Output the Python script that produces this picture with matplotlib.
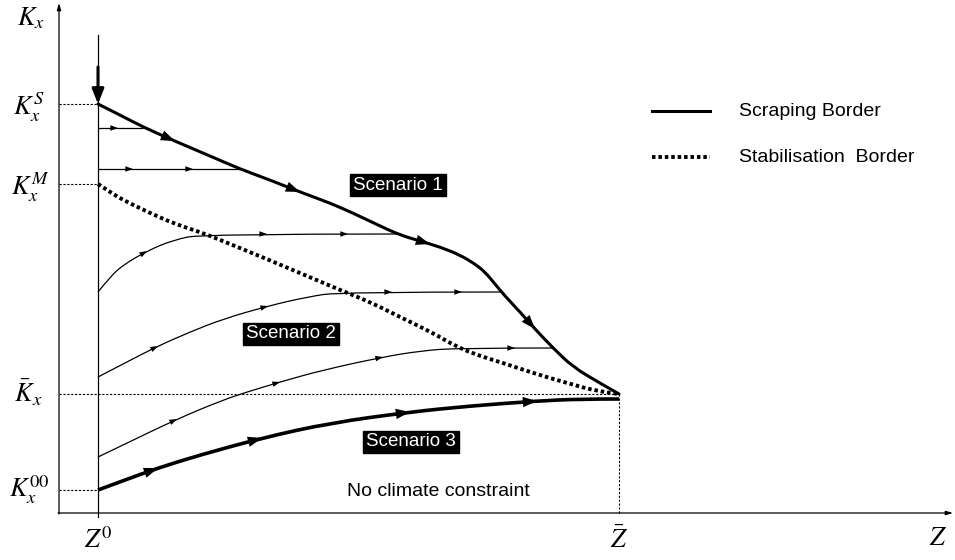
import numpy as np
import matplotlib
matplotlib.use("Agg")
import matplotlib.pyplot as plt
from matplotlib.path import Path
from matplotlib.patches import PathPatch

plt.rcParams['font.family'] = ['Liberation Sans', 'DejaVu Sans']
plt.rcParams['mathtext.fontset'] = 'stix'

# reference levels on the axes
Z0 = 0.39
Z_bar = 5.60
K_S = 4.09
K_M = 3.29
K_bar = 1.19
K_00 = 0.23

# scraping border (upper bound)
scrap_z = [0.39, 0.61, 0.84, 1.18, 1.51, 1.81, 2.11, 2.41, 2.71, 2.96, 3.21, 3.41, 3.61,
           3.81, 4.01, 4.16, 4.26, 4.36, 4.46, 4.61, 4.76, 4.94, 5.14, 5.39, 5.60]
scrap_k = [4.09, 3.98, 3.86, 3.71, 3.57, 3.44, 3.33, 3.21, 3.10, 2.99, 2.87, 2.78, 2.72,
           2.66, 2.58, 2.49, 2.41, 2.29, 2.17, 2.01, 1.84, 1.65, 1.46, 1.31, 1.19]

# stabilisation border
stab_z = [0.39, 0.51, 0.64, 0.91, 1.16, 1.44, 1.71, 1.98, 2.41, 2.81, 3.11, 3.41, 3.74,
          3.98, 4.21, 4.41, 4.74, 5.08, 5.41, 5.60]
stab_k = [3.29, 3.21, 3.13, 3.00, 2.89, 2.80, 2.69, 2.58, 2.40, 2.23, 2.11, 1.96, 1.80,
          1.66, 1.57, 1.51, 1.40, 1.30, 1.21, 1.19]

# thin trajectories
traj1_z = [0.39, 0.84]
traj1_k = [3.85, 3.85]
traj2_z = [0.39, 1.81]
traj2_k = [3.44, 3.44]
traj3_z = [0.39, 0.51, 0.64, 0.88, 1.14, 1.44, 3.40]
traj3_k = [2.21, 2.36, 2.48, 2.62, 2.73, 2.79, 2.79]
traj4_z = [0.39, 0.64, 0.99, 1.31, 1.64, 2.09, 2.48, 2.81, 4.43]
traj4_k = [1.36, 1.49, 1.67, 1.81, 1.94, 2.07, 2.16, 2.21, 2.21]
traj5_z = [0.39, 0.64, 1.18, 1.64, 1.88, 2.21, 2.64, 3.24, 3.61, 3.98, 4.94]
traj5_k = [0.56, 0.68, 0.94, 1.13, 1.21, 1.31, 1.43, 1.56, 1.62, 1.65, 1.65]

# scenario 3 path (no climate constraint)
sc3_z = [0.39, 0.66, 0.99, 1.41, 2.03, 2.71, 3.51, 4.11, 4.78, 5.21, 5.60]
sc3_k = [0.23, 0.33, 0.45, 0.58, 0.75, 0.90, 1.01, 1.07, 1.12, 1.14, 1.14]

fig = plt.figure(figsize=(9.55, 5.6), dpi=100)
ax = fig.add_axes([0, 0, 1, 1])
ax.set_xlim(-0.59, 8.96)
ax.set_ylim(-0.47, 5.13)
ax.axis('off')


def smooth(zs, ks, **kw):
    # quadratic bezier through the midpoints, the read points act as controls
    pts = list(zip(zs, ks))
    if len(pts) < 3:
        verts, codes = pts, [Path.MOVETO, Path.LINETO]
    else:
        verts, codes = [pts[0]], [Path.MOVETO]
        for i in range(1, len(pts) - 2):
            mid = ((pts[i][0] + pts[i + 1][0]) / 2, (pts[i][1] + pts[i + 1][1]) / 2)
            verts += [pts[i], mid]
            codes += [Path.CURVE3, Path.CURVE3]
        verts += [pts[-2], pts[-1]]
        codes += [Path.CURVE3, Path.CURVE3]
    ax.add_patch(PathPatch(Path(verts, codes), fill=False, **kw))


def head(z, k, zs, ks, dz, big=False):
    # arrowhead sitting on a curve, pointing along it
    k0 = np.interp(z - dz, zs, ks)
    if big:
        style, ms = '-|>,head_length=0.6,head_width=0.22', 17
    else:
        style, ms = '-|>,head_length=0.55,head_width=0.2', 10
    ax.annotate('', xy=(z, k), xytext=(z - dz, k0),
                arrowprops=dict(arrowstyle=style, mutation_scale=ms, color='k',
                                lw=0, shrinkA=0, shrinkB=0))


def arrows_on(zs, ks, positions, big=False):
    dz = 0.08 if big else 0.06
    for z in positions:
        head(z, np.interp(z, zs, ks), zs, ks, dz, big)


# axes with arrows
ax.annotate('', xy=(0, 5.10), xytext=(0, -0.01),
            arrowprops=dict(arrowstyle='-|>,head_length=0.5,head_width=0.15',
                            mutation_scale=8, color='k', lw=0.9, shrinkA=0, shrinkB=0))
ax.annotate('', xy=(8.94, 0), xytext=(-0.01, 0),
            arrowprops=dict(arrowstyle='-|>,head_length=0.5,head_width=0.15',
                            mutation_scale=8, color='k', lw=0.9, shrinkA=0, shrinkB=0))

# Z0 vertical line
ax.plot([Z0, Z0], [-0.04, 4.78], color='k', lw=0.9)

# dotted guides
guide = dict(color='k', lw=0.8, linestyle=(0, (2, 1.5)))
ax.plot([0, Z0], [K_S, K_S], **guide)
ax.plot([0, Z0], [K_M, K_M], **guide)
ax.plot([0, Z_bar], [K_bar, K_bar], **guide)
ax.plot([0, Z0], [K_00, K_00], **guide)
ax.plot([Z_bar, Z_bar], [0, K_bar], **guide)

# thin trajectories
for zs, ks in [(traj1_z, traj1_k), (traj2_z, traj2_k), (traj3_z, traj3_k),
               (traj4_z, traj4_k), (traj5_z, traj5_k)]:
    smooth(zs, ks, edgecolor='k', lw=0.9)
arrows_on(traj1_z, traj1_k, [0.59])
arrows_on(traj2_z, traj2_k, [0.74, 1.34])
arrows_on(traj3_z, traj3_k, [0.88, 2.08, 2.89])
arrows_on(traj4_z, traj4_k, [0.99, 2.09, 3.33, 4.03])
arrows_on(traj5_z, traj5_k, [1.18, 2.21, 3.24, 4.56])

# borders
smooth(stab_z, stab_k, edgecolor='k', lw=2.8, linestyle=(0, (0.9, 0.75)))
smooth(scrap_z, scrap_k, edgecolor='k', lw=2.2, capstyle='round')
arrows_on(scrap_z, scrap_k, [1.16, 2.41, 3.71, 4.76], big=True)

# vertical jump onto the scraping border
ax.annotate('', xy=(Z0, K_S), xytext=(Z0, 4.46),
            arrowprops=dict(arrowstyle='-|>,head_length=0.55,head_width=0.22',
                            mutation_scale=16, color='k', lw=2.2,
                            shrinkA=0, shrinkB=0))

# scenario 3
smooth(sc3_z, sc3_k, edgecolor='k', lw=2.6)
arrows_on(sc3_z, sc3_k, [0.99, 2.03, 3.51, 4.78], big=True)

# scenario tags
box = dict(boxstyle='square,pad=0.15', facecolor='black', edgecolor='black')
for txt, z, k in [('Scenario 1', 3.39, 3.28), ('Scenario 2', 2.32, 1.79),
                  ('Scenario 3', 3.52, 0.71)]:
    ax.text(z, k, txt, color='white', fontsize=13.5, ha='center', va='center', bbox=box)
ax.text(3.79, 0.21, 'No climate constraint', fontsize=14, ha='center', va='center')

# legend
ax.plot([5.93, 6.51], [4.02, 4.02], color='k', lw=2.2)
ax.text(6.80, 4.01, 'Scraping Border', fontsize=14, ha='left', va='center')
ax.plot([5.93, 6.51], [3.56, 3.56], color='k', lw=2.8, linestyle=(0, (0.9, 0.75)))
ax.text(6.80, 3.55, 'Stabilisation  Border', fontsize=14, ha='left', va='center')

# axis labels
lab = dict(fontsize=19, ha='center', va='center')
ax.text(-0.28, 4.95, r'$K_x$', **lab)
ax.text(-0.30, 4.06, r'$K_x^S$', **lab)
ax.text(-0.29, 3.26, r'$K_x^M$', **lab)
ax.text(-0.31, 1.20, r'$\bar{K}_x$', **lab)
ax.text(-0.30, 0.23, r'$K_x^{00}$', **lab)
ax.text(0.39, -0.27, r'$Z^0$', **lab)
ax.text(5.60, -0.27, r'$\bar{Z}$', **lab)
ax.text(8.79, -0.25, r'$Z$', **lab)

fig.savefig('out.png', dpi=100)
